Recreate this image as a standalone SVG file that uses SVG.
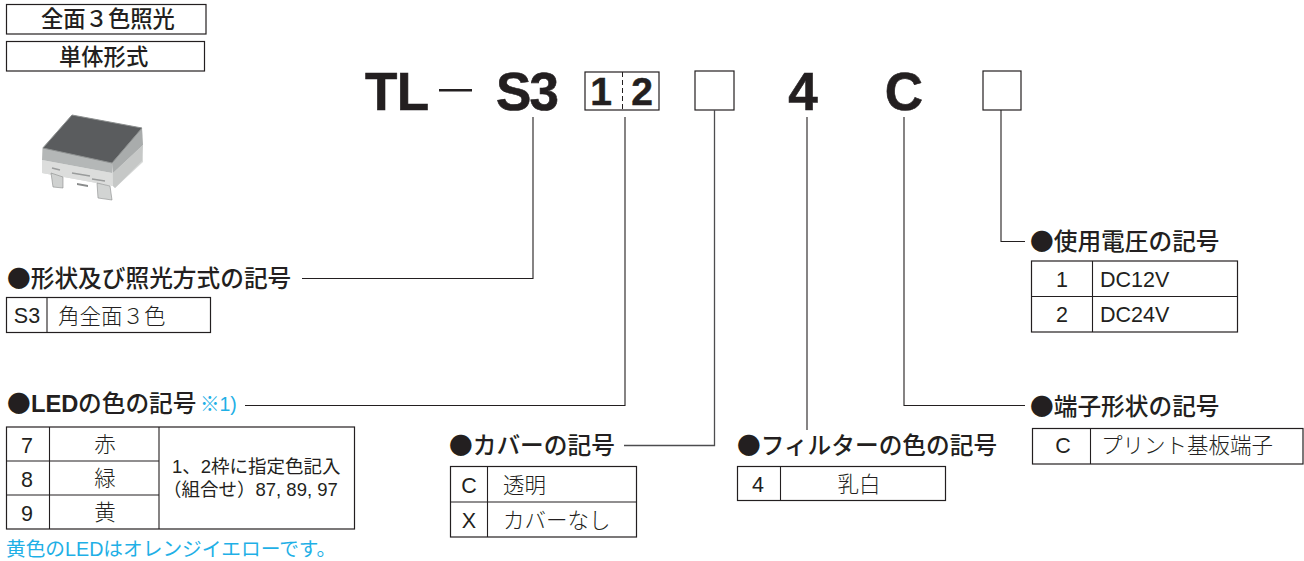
<svg xmlns="http://www.w3.org/2000/svg" width="1304" height="561" viewBox="0 0 1304 561">
<style>
text{font-family:"Liberation Sans","Noto Sans CJK JP",sans-serif;fill:#231f20}
.box{fill:none;stroke:#231f20;stroke-width:1.2}
.ln{fill:none;stroke:#231f20;stroke-width:1.1}
.h{font-size:23.7px;font-family:"Noto Sans CJK JP","Liberation Sans",sans-serif;font-weight:500}
.hb{font-size:23.7px;font-weight:700}
.c{font-size:21.5px;text-anchor:middle;font-family:"Noto Sans CJK JP",sans-serif;font-weight:300}
.l{font-size:21.5px;font-family:"Noto Sans CJK JP",sans-serif;font-weight:300}
.d{font-size:21.5px;text-anchor:middle;font-family:"Liberation Sans",sans-serif}
.dl{font-size:21.5px;font-family:"Liberation Sans",sans-serif}
.big{font-size:53px;font-weight:700;stroke:#231f20;stroke-width:.6}
.nb{font-size:39px;font-weight:700;text-anchor:middle;stroke:#231f20;stroke-width:.5}
.badge{font-size:22.3px;font-weight:500;font-family:"Noto Sans CJK JP",sans-serif}
.note{font-size:18.5px;font-family:"Liberation Sans","Noto Sans CJK JP",sans-serif;font-weight:400}
.blue{font-family:"Liberation Sans","Noto Sans CJK JP",sans-serif;font-weight:400}
</style>
<g id="badge-lighting"><rect class="box" x="6.5" y="4.5" width="199.5" height="29.5"/><text class="badge" x="41" y="27">全面３色照光</text></g>
<g id="badge-format"><rect class="box" x="6.5" y="41.5" width="198" height="29.5"/><text class="badge" x="59" y="64.500">単体形式</text></g>
<g id="product-photo">
<polygon points="72,115 142,128 143,162 115,188 113,186 42,173 42,148" fill="#d8dad9"/>
<polygon points="43,148 112,163 112,173 42,160" fill="#b4b7b7"/>
<polygon points="112,163 142,128 143,145 113,173" fill="#a9acac"/>
<polygon points="42,160 112,173 113,186 42,173" fill="#dcdddc"/>
<polygon points="113,173 143,145 142,161 115,188 113,186" fill="#c6c8c7"/>
<polygon points="72,115 142,128 112,163 43,148" fill="#5a5c5e" stroke="#8d9090" stroke-width="1"/>
<polygon points="51,173 63,177 63,188 53,187" fill="#cfd1d0" stroke="#8a8c8c" stroke-width=".6"/>
<polygon points="77,183 88,185 88,187 77,185" fill="#8a8c8c"/>
<polygon points="97,183 110,186 112,200 98,198" fill="#d2d4d3" stroke="#8a8c8c" stroke-width=".6"/>
<path d="M52,168 L60,170 M72,173 L90,176 M92,179 L105,181" stroke="#9a9c9c" stroke-width="1.500" fill="none"/>
</g>
<g id="code">
<text class="big" x="365" y="110" textLength="64">TL</text>
<rect x="439" y="89" width="33" height="2.500" fill="#231f20"/>
<text class="big" x="496" y="110" textLength="63">S3</text>
<g id="code-12"><rect class="box" x="585" y="72" width="74" height="38" stroke-width="1.300"/><line x1="622.500" y1="72" x2="622.500" y2="110" stroke="#231f20" stroke-width="1" stroke-dasharray="5 3"/><text class="nb" x="601" y="104.500">1</text><text class="nb" x="642" y="104.500">2</text></g>
<rect id="code-cover" class="box" x="695" y="71" width="39" height="39"/>
<text class="big" x="803" y="110" text-anchor="middle">4</text>
<text class="big" x="904" y="110" text-anchor="middle">C</text>
<rect id="code-voltage" class="box" x="983" y="71" width="38" height="39"/>
</g>
<g id="connectors">
<path class="ln" d="M533,117 V278.500 H302"/>
<path class="ln" d="M625,117 V405.500 H245"/>
<path class="ln" d="M714.500,110 V445.500 H624" style="stroke:#4d4d4f;stroke-width:1.300"/>
<path class="ln" d="M807,117 V430"/>
<path class="ln" d="M904,117 V405.500 H1025"/>
<path class="ln" d="M1001,110 V241.500 H1025"/>
</g>
<g id="shape-code">
<text class="h" x="7" y="287">●形状及び照光方式の記号</text>
<rect class="box" x="6.500" y="297.500" width="204" height="35"/><line class="ln" x1="47" y1="297.500" x2="47" y2="332.500"/>
<text class="d" x="27" y="323">S3</text><text class="l" x="58" y="324">角全面３色</text>
</g>
<g id="led-code">
<text class="h" x="7" y="412">●</text><text class="hb" x="31" y="412">LED</text><text class="h" x="78" y="412">の色の記号</text>
<text class="blue" x="200" y="411" font-size="19.500" style="fill:#1fb0e6">※1)</text>
<rect class="box" x="6.500" y="427" width="348" height="102"/>
<path class="ln" d="M49.500,427 V529 M159,427 V529 M6.500,461 H159 M6.500,495 H159"/>
<text class="d" x="27" y="453">7</text><text class="d" x="27" y="487">8</text><text class="d" x="27" y="521">9</text>
<text class="c" x="105" y="452">赤</text><text class="c" x="105" y="486">緑</text><text class="c" x="105" y="520">黄</text>
<text class="note" x="172" y="473">1、2枠に指定色記入</text>
<text class="note" x="163" y="496">（組合せ）87, 89, 97</text>
<text class="blue" x="6" y="556" font-size="19.700" style="fill:#1fb0e6">黄色のLEDはオレンジイエローです。</text>
</g>
<g id="cover-code">
<text class="h" x="449" y="454">●カバーの記号</text>
<rect class="box" x="450.500" y="466.500" width="186" height="70.500"/><path class="ln" d="M487.500,466.500 V537 M450.500,502 H636.500"/>
<text class="d" x="469" y="493">C</text><text class="d" x="469" y="528">X</text>
<text class="l" x="503" y="493">透明</text><text class="l" x="503" y="528">カバーなし</text>
</g>
<g id="filter-code">
<text class="h" x="737" y="454">●フィルターの色の記号</text>
<rect class="box" x="737.500" y="466.500" width="208" height="34"/><line class="ln" x1="780.500" y1="466.500" x2="780.500" y2="500.500"/>
<text class="d" x="758" y="492">4</text><text class="c" x="859" y="492">乳白</text>
</g>
<g id="terminal-code">
<text class="h" x="1030" y="415">●端子形状の記号</text>
<rect class="box" x="1032.500" y="428.500" width="270.500" height="35.500"/><line class="ln" x1="1090.500" y1="428.500" x2="1090.500" y2="464"/>
<text class="d" x="1063" y="453">C</text><text class="l" x="1101" y="453">プリント基板端子</text>
</g>
<g id="voltage-code">
<text class="h" x="1030" y="250">●使用電圧の記号</text>
<rect class="box" x="1031.500" y="261" width="206" height="71"/><path class="ln" d="M1092.500,261 V332 M1031.500,296.500 H1237.500"/>
<text class="d" x="1062" y="287">1</text><text class="d" x="1062" y="322">2</text>
<text class="dl" x="1100" y="287">DC12V</text><text class="dl" x="1100" y="322">DC24V</text>
</g>
</svg>
